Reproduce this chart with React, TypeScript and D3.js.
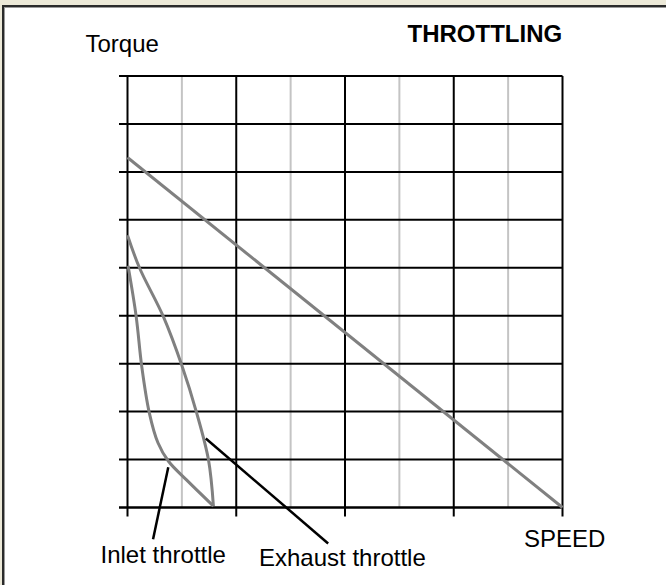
import React, { useRef, useEffect } from 'react';
import * as d3 from 'd3';

// speed runs 0..8 (half grid cells), torque 0..9 (grid rows)
const xMajor = [0, 2, 4, 6, 8];
const xMinor = [1, 3, 5, 7];
const yRows = [0, 1, 2, 3, 4, 5, 6, 7, 8, 9];

const fullLoad = [
  { x: 0, y: 7.3 },
  { x: 8, y: 0 },
];

const exhaustCurve = [
  { x: 0.0, y: 5.68 },
  { x: 0.22, y: 5.0 },
  { x: 0.66, y: 3.98 },
  { x: 1.0, y: 2.96 },
  { x: 1.27, y: 1.98 },
  { x: 1.49, y: 0.99 },
  { x: 1.58, y: 0.03 },
];

const inletCurve = [
  { x: 0.01, y: 5.04 },
  { x: 0.16, y: 3.98 },
  { x: 0.26, y: 2.96 },
  { x: 0.4, y: 1.98 },
  { x: 0.56, y: 1.35 },
  { x: 0.75, y: 0.97 },
  { x: 1.09, y: 0.57 },
  { x: 1.58, y: 0.03 },
];

const pointers = [
  { label: 'Inlet throttle', from: { x: 0.75, y: 0.84 }, to: { x: 0.47, y: -0.66 } },
  { label: 'Exhaust throttle', from: { x: 1.44, y: 1.44 }, to: { x: 3.69, y: -0.75 } },
];

const App = () => {
  const svgRef = useRef<SVGSVGElement>(null);

  useEffect(() => {
    const svg = d3.select(svgRef.current);
    svg.selectAll('*').remove();

    const width = 666;
    const height = 585;
    const plot = { left: 127.5, right: 562.5, top: 76, bottom: 507.5 };
    const font = '"Liberation Sans", Arial, sans-serif';

    const x = d3.scaleLinear().domain([0, 8]).range([plot.left, plot.right]);
    const y = d3.scaleLinear().domain([0, 9]).range([plot.bottom, plot.top]);

    // window frame
    svg.append('rect').attr('width', width).attr('height', height).attr('fill', '#ECE9D8');
    svg.append('rect').attr('x', 2).attr('y', 5).attr('width', width).attr('height', height).attr('fill', '#2a2a2a');
    svg.append('rect').attr('x', 4).attr('y', 7).attr('width', width).attr('height', height).attr('fill', '#9a9a9a');
    svg.append('rect').attr('x', 5).attr('y', 8).attr('width', width).attr('height', height).attr('fill', '#fff');

    const g = svg.append('g');

    // minor verticals
    g.selectAll('line.minor')
      .data(xMinor)
      .enter()
      .append('line')
      .attr('x1', d => x(d))
      .attr('x2', d => x(d))
      .attr('y1', plot.top)
      .attr('y2', plot.bottom)
      .attr('stroke', '#c4c4c4')
      .attr('stroke-width', 2);

    // major verticals with ticks below
    g.selectAll('line.major')
      .data(xMajor)
      .enter()
      .append('line')
      .attr('x1', d => x(d))
      .attr('x2', d => x(d))
      .attr('y1', plot.top)
      .attr('y2', plot.bottom + 9)
      .attr('stroke', '#000')
      .attr('stroke-width', 2);

    // horizontal rows with ticks on the left
    g.selectAll('line.row')
      .data(yRows)
      .enter()
      .append('line')
      .attr('x1', plot.left - 8.5)
      .attr('x2', plot.right)
      .attr('y1', d => y(d))
      .attr('y2', d => y(d))
      .attr('stroke', '#000')
      .attr('stroke-width', d => (d === 0 ? 2.5 : 2));

    const line = d3.line<{ x: number; y: number }>()
      .x(d => x(d.x))
      .y(d => y(d.y));

    const curve = d3.line<{ x: number; y: number }>()
      .x(d => x(d.x))
      .y(d => y(d.y))
      .curve(d3.curveCatmullRom.alpha(0.5));

    g.append('path').attr('d', line(fullLoad)).attr('fill', 'none')
      .attr('stroke', '#808080').attr('stroke-width', 3);
    g.append('path').attr('d', curve(exhaustCurve)).attr('fill', 'none')
      .attr('stroke', '#808080').attr('stroke-width', 3);
    g.append('path').attr('d', curve(inletCurve)).attr('fill', 'none')
      .attr('stroke', '#808080').attr('stroke-width', 3);

    // pointers
    g.selectAll('line.pointer')
      .data(pointers)
      .enter()
      .append('line')
      .attr('x1', d => x(d.from.x))
      .attr('y1', d => y(d.from.y))
      .attr('x2', d => x(d.to.x))
      .attr('y2', d => y(d.to.y))
      .attr('stroke', '#000')
      .attr('stroke-width', 2.5);

    const text = (s: string, tx: number, ty: number, size: number, weight = 'normal') =>
      svg.append('text')
        .attr('x', tx)
        .attr('y', ty)
        .attr('font-family', font)
        .attr('font-size', size)
        .attr('font-weight', weight)
        .attr('fill', '#000')
        .text(s);

    text('Torque', 85.5, 51.7, 24);
    text('THROTTLING', 407.5, 41.7, 24, 'bold');
    text('SPEED', 524, 547.3, 24);
    text(pointers[0].label, 100.5, 562.7, 24);
    text(pointers[1].label, 259, 565.7, 24);
  }, []);

  return (
    <svg
      ref={svgRef}
      width="666"
      height="585"
      style={{ position: 'absolute', left: 0, top: 0 }}
    ></svg>
  );
};

export default App;
